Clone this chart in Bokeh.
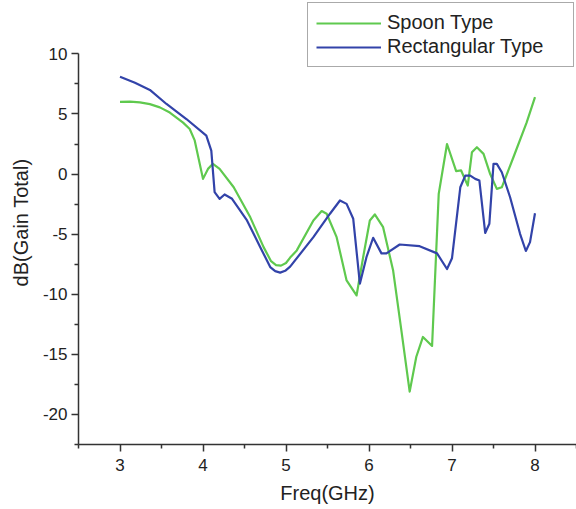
from bokeh.plotting import figure
from bokeh.models import Range1d, FixedTicker, Legend, LegendItem
from bokeh.embed import file_html
from bokeh.resources import INLINE

# Spoon Type (green)
freq_spoon = [3.0, 3.12, 3.24, 3.36, 3.48, 3.60, 3.68, 3.76, 3.84, 3.90, 4.00, 4.06,
              4.12, 4.20, 4.37, 4.57, 4.73, 4.82, 4.88, 4.94, 5.00, 5.05, 5.13, 5.33,
              5.43, 5.49, 5.61, 5.73, 5.85, 5.93, 6.01, 6.07, 6.17, 6.29, 6.39, 6.49,
              6.57, 6.65, 6.76, 6.84, 6.94, 7.05, 7.11, 7.19, 7.24, 7.30, 7.38, 7.46,
              7.54, 7.60, 7.74, 7.90, 8.0]
gain_spoon = [6.0, 6.02, 5.97, 5.82, 5.55, 5.12, 4.7, 4.28, 3.75, 2.8, -0.4, 0.43,
              0.85, 0.43, -1.1, -3.6, -6.08, -7.25, -7.58, -7.62, -7.4, -6.95, -6.35, -3.86,
              -3.08, -3.3, -5.25, -8.85, -10.1, -6.9, -3.86, -3.36, -4.42, -8.0, -13.0, -18.1,
              -15.2, -13.55, -14.3, -1.65, 2.5, 0.25, 0.3, -0.96, 1.81, 2.23, 1.68, 0.0,
              -1.23, -1.1, 1.4, 4.3, 6.4]

# Rectangular Type (blue)
freq_rect = [3.0, 3.18, 3.36, 3.56, 3.80, 4.04, 4.10, 4.14, 4.20, 4.26, 4.35, 4.53,
             4.69, 4.81, 4.87, 4.93, 4.99, 5.05, 5.33, 5.53, 5.65, 5.73, 5.81, 5.89,
             5.97, 6.05, 6.15, 6.21, 6.37, 6.61, 6.82, 6.94, 7.0, 7.10, 7.16, 7.22,
             7.28, 7.33, 7.40, 7.45, 7.50, 7.54, 7.60, 7.70, 7.82, 7.89, 7.94, 8.0]
gain_rect = [8.1, 7.6, 7.0, 5.83, 4.58, 3.2, 1.95, -1.5, -2.06, -1.7, -2.06, -3.86,
             -6.08, -7.74, -8.08, -8.2, -8.05, -7.7, -5.25, -3.3, -2.2, -2.48, -3.72, -9.12,
             -6.9, -5.3, -6.6, -6.6, -5.86, -6.0, -6.6, -7.9, -7.0, -1.1, -0.13, -0.13,
             -0.4, -0.54, -4.9, -4.14, 0.85, 0.85, 0.15, -1.93, -4.97, -6.4, -5.66, -3.26]

x_ticks = [3, 4, 5, 6, 7, 8]
x_minor = [2.5, 3.5, 4.5, 5.5, 6.5, 7.5, 8.5]
y_ticks = [-20, -15, -10, -5, 0, 5, 10]
y_minor = [-22.5, -17.5, -12.5, -7.5, -2.5, 2.5, 7.5]
y_tick_labels = {t: str(t) for t in y_ticks}

GREEN = "#5FC94E"
BLUE = "#3243A9"
AXIS = "#333333"
FONT = "Liberation Sans"

p = figure(width=576, height=509, output_backend="svg", toolbar_location=None,
           x_range=Range1d(2.5, 8.5), y_range=Range1d(-22.5, 14.44),
           min_border_left=78, min_border_right=0, min_border_top=0,
           min_border_bottom=65)
p.grid.visible = False
p.outline_line_color = None

r1 = p.line(freq_spoon, gain_spoon, line_color=GREEN, line_width=2.2, line_join="round")
r2 = p.line(freq_rect, gain_rect, line_color=BLUE, line_width=2.2, line_join="round")

for ax in (p.xaxis[0], p.yaxis[0]):
    ax.axis_line_color = AXIS
    ax.axis_line_width = 1.5
    ax.major_tick_line_color = AXIS
    ax.minor_tick_line_color = AXIS
    ax.major_tick_line_width = 1.5
    ax.minor_tick_line_width = 1.5
    ax.major_tick_out = 7
    ax.major_tick_in = 0
    ax.minor_tick_out = 4
    ax.minor_tick_in = 0
    ax.major_label_text_font = FONT
    ax.major_label_text_font_size = "17px"
    ax.major_label_text_color = "#222222"
    ax.axis_label_text_font = FONT
    ax.axis_label_text_font_size = "20px"
    ax.axis_label_text_font_style = "normal"
    ax.axis_label_text_color = "#222222"

p.xaxis.ticker = FixedTicker(ticks=x_ticks, minor_ticks=x_minor)
p.yaxis.ticker = FixedTicker(ticks=y_ticks, minor_ticks=y_minor)
p.yaxis.bounds = (-22.5, 10)
p.yaxis.major_label_overrides = y_tick_labels
p.xaxis.axis_label = "Freq(GHz)"
p.yaxis.axis_label = "dB(Gain Total)"
p.xaxis.major_label_standoff = 7
p.yaxis.major_label_standoff = 4
p.xaxis.axis_label_standoff = 8
p.yaxis.axis_label_standoff = 8

legend = Legend(items=[LegendItem(label="Spoon Type", renderers=[r1]),
                       LegendItem(label="Rectangular Type", renderers=[r2])],
                location=(229, 377), padding=8, spacing=1, margin=0,
                glyph_width=65, glyph_height=20, label_standoff=6,
                label_width=178, label_height=20,
                label_text_font=FONT, label_text_font_size="20px",
                label_text_color="#222222",
                border_line_color="#555555", border_line_width=1.5,
                background_fill_color="white", background_fill_alpha=1)
p.add_layout(legend, "center")

open("out.html", "w").write(file_html(p, INLINE))
